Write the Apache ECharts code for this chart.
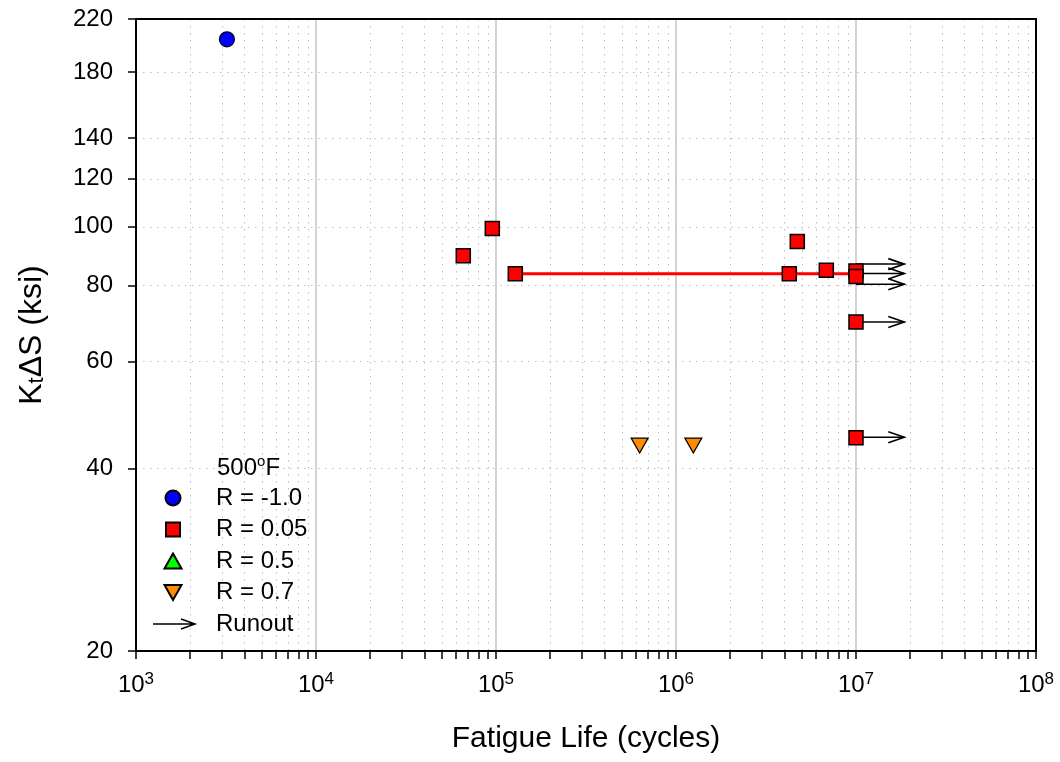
<!DOCTYPE html>
<html>
<head>
<meta charset="utf-8">
<script src="https://cdn.jsdelivr.net/npm/echarts@6/dist/echarts.min.js"></script>
<style>
html,body{margin:0;padding:0;background:#fff;}
#chart{width:1060px;height:762px;}
</style>
</head>
<body>
<div id="chart"></div>
<script>
// ---- data ----
const circleLife = [3200];
const circleStress = [203.7];

const squareLife = [65800, 95400, 128000, 4720000, 4260000, 6840000, 1e7, 1e7, 1e7, 1e7];
const squareStress = [89.6, 99.4, 83.7, 94.6, 83.7, 84.8, 84.6, 82.8, 69.7, 44.9];

const triUpLife = [];
const triUpStress = [];

const triDownLife = [628000, 1248000];
const triDownStress = [43.6, 43.6];

const fitLife = [128000, 1e7];
const fitStress = [83.7, 83.7];

const runoutLife = [1e7, 1e7, 1e7, 1e7, 1e7];
const runoutStress = [86.8, 83.8, 80.4, 69.7, 45.0];

const xMajorTicks = [1e3, 1e4, 1e5, 1e6, 1e7, 1e8];
const xMinorTicks = [];
for (let e = 3; e < 8; e++) for (let m = 2; m <= 9; m++) xMinorTicks.push(m * Math.pow(10, e));
const yTicks = [20, 40, 60, 80, 100, 120, 140, 180, 220];

// ---- chart ----
const FONT = '"Liberation Sans", Arial, sans-serif';
const ARROW_FACTOR = 1.855; // runout arrow length (display)
const zip = (a, b) => a.map((v, i) => [v, b[i]]);

const chart = echarts.init(document.getElementById('chart'), null, {renderer: 'canvas'});

const option = {
  backgroundColor: '#fff',
  animation: false,
  textStyle: {fontFamily: FONT},
  grid: {left: 136, right: 24, top: 19, bottom: 111, show: true, borderColor: '#000', borderWidth: 2, containLabel: false, z: 10},
  title: {
    text: '500{o|o}F',
    left: 217, top: 454, padding: 0,
    textStyle: {fontFamily: FONT, fontSize: 24, fontWeight: 'normal', color: '#000', lineHeight: 28,
      rich: {o: {fontFamily: FONT, fontSize: 15, verticalAlign: 'top', lineHeight: 16, color: '#000'}}}
  },
  legend: {
    orient: 'vertical', left: 150, top: 486, padding: 0,
    itemWidth: 44, itemHeight: 15, itemGap: 7.5,
    textStyle: {fontFamily: FONT, fontSize: 24, color: '#000', lineHeight: 22, padding: [0, 0, 0, 16]},
    data: [
      {name: 'R = -1.0', icon: 'circle'},
      {name: 'R = 0.05', icon: 'path://M0,0M44,15M15,0.5L29,0.5L29,14.5L15,14.5Z'},
      {name: 'R = 0.5', icon: 'path://M0,0M44,15M13.5,15L22,0L30.5,15Z'},
      {name: 'R = 0.7', icon: 'path://M0,0M44,15M13.5,0L30.5,0L22,15Z'},
      {name: 'Runout', icon: 'path://M0,0M44,15M2,7.5L44,7.5M30,2.5L44,7.5L30,12.5',
       itemStyle: {color: 'rgba(0,0,0,0)', borderColor: '#000', borderWidth: 1.5}}
    ]
  },
  xAxis: [
    {
      type: 'log', logBase: 10, min: 1e3, max: 1e8, position: 'bottom',
      name: 'Fatigue Life (cycles)', nameLocation: 'middle', nameGap: 73,
      nameTextStyle: {fontFamily: FONT, fontSize: 30, color: '#000'},
      axisLine: {show: true, onZero: false, lineStyle: {color: '#000', width: 2}},
      axisTick: {show: true, length: 8, inside: false, customValues: xMajorTicks, lineStyle: {color: '#000', width: 1.5}},
      axisLabel: {
        customValues: xMajorTicks, margin: 20, color: '#000',
        formatter: v => '{b|10}{s|' + Math.round(Math.log10(v)) + '}',
        rich: {
          b: {fontFamily: FONT, fontSize: 24, lineHeight: 28, color: '#000'},
          s: {fontFamily: FONT, fontSize: 17, lineHeight: 15, verticalAlign: 'top', color: '#000'}
        }
      },
      splitLine: {show: true, lineStyle: {color: '#c4c4c4', width: 1.5, type: 'solid'}},
      minorTick: {show: false}, minorSplitLine: {show: false}
    },
    {
      type: 'log', logBase: 10, min: 1e3, max: 1e8, position: 'bottom',
      axisLine: {show: false},
      axisTick: {show: true, length: 8, inside: false, customValues: xMinorTicks, lineStyle: {color: '#000', width: 1.5}},
      axisLabel: {show: false},
      splitLine: {show: true, lineStyle: {color: '#bdbdbd', width: 1, type: [1.5, 5.5]}}
    }
  ],
  yAxis: {
    type: 'log', logBase: 10, min: 20, max: 220,
    name: 'K{sub|t}ΔS (ksi)', nameLocation: 'middle', nameGap: 88,
    nameTextStyle: {fontFamily: FONT, fontSize: 32, color: '#000',
      rich: {sub: {fontFamily: FONT, fontSize: 22, verticalAlign: 'bottom', lineHeight: 27, color: '#000'}}},
    axisLine: {show: true, onZero: false, lineStyle: {color: '#000', width: 2}},
    axisTick: {show: true, length: 8, customValues: yTicks, lineStyle: {color: '#000', width: 1.5}},
    axisLabel: {customValues: yTicks, margin: 23, fontFamily: FONT, fontSize: 24, color: '#000'},
    splitLine: {show: true, lineStyle: {color: '#bdbdbd', width: 1, type: [1.5, 5.5]}},
    minorTick: {show: false}
  },
  series: [
    {
      name: 'Fit', type: 'line', data: zip(fitLife, fitStress), showSymbol: false, symbol: 'none',
      lineStyle: {color: '#ff0000', width: 3}, z: 2, silent: true
    },
    {
      name: 'Runout', type: 'custom', z: 2,
      itemStyle: {color: '#000'},
      data: runoutLife.map((v, i) => [v, v * ARROW_FACTOR, runoutStress[i]]),
      renderItem: (params, api) => {
        const p0 = api.coord([api.value(0), api.value(2)]);
        const p1 = api.coord([api.value(1), api.value(2)]);
        return {
          type: 'group',
          children: [
            {type: 'line', shape: {x1: p0[0], y1: p0[1], x2: p1[0], y2: p1[1]},
             style: {stroke: '#000', lineWidth: 1.5}},
            {type: 'polyline', shape: {points: [[p1[0] - 16, p1[1] - 5.5], [p1[0], p1[1]], [p1[0] - 16, p1[1] + 5.5]]},
             style: {stroke: '#000', fill: null, lineWidth: 1.6}}
          ]
        };
      }
    },
    {
      name: 'R = -1.0', type: 'scatter', data: zip(circleLife, circleStress),
      symbol: 'circle', symbolSize: 15, z: 5,
      itemStyle: {color: '#0000ff', borderColor: '#000', borderWidth: 1.2, opacity: 1}
    },
    {
      name: 'R = 0.05', type: 'scatter', data: zip(squareLife, squareStress),
      symbol: 'rect', symbolSize: 14, z: 5,
      itemStyle: {color: '#ff0000', borderColor: '#000', borderWidth: 1.5, opacity: 1}
    },
    {
      name: 'R = 0.5', type: 'scatter', data: zip(triUpLife, triUpStress),
      symbol: 'triangle', symbolSize: [17, 15], z: 5,
      itemStyle: {color: '#00ff00', borderColor: '#000', borderWidth: 1.2, opacity: 1}
    },
    {
      name: 'R = 0.7', type: 'scatter', data: zip(triDownLife, triDownStress),
      symbol: 'triangle', symbolRotate: 180, symbolSize: [17, 15], z: 5,
      itemStyle: {color: '#ff8c00', borderColor: '#000', borderWidth: 1.2, opacity: 1}
    }
  ]
};
chart.setOption(option);
</script>
</body>
</html>
